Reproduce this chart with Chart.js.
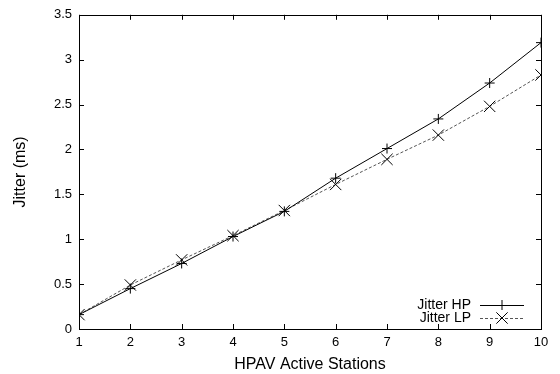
<!DOCTYPE html>
<html>
<head>
<meta charset="utf-8">
<script src="https://cdn.jsdelivr.net/npm/chart.js@4"></script>
<style>
  html, body { margin: 0; padding: 0; background: #fff; }
  #wrap { width: 560px; height: 374px; }
</style>
</head>
<body>
<div id="wrap"><canvas id="jitterChart" width="560" height="374"></canvas></div>
<script>
// data
const stations = [1, 2, 3, 4, 5, 6, 7, 8, 9, 10];
const jitterHP = [0.16, 0.45, 0.73, 1.03, 1.31, 1.68, 2.01, 2.34, 2.74, 3.19];
const jitterLP = [0.16, 0.49, 0.77, 1.04, 1.32, 1.61, 1.89, 2.16, 2.48, 2.83];
const seriesNames = ["Jitter HP", "Jitter LP"];

const FONT = "'Liberation Sans', Arial, Helvetica, sans-serif";

function toPoints(xs, ys) {
  return xs.map((x, i) => ({ x: x, y: ys[i] }));
}

// frame + inward ticks on every side, gnuplot style
const framePlugin = {
  id: "frame",
  afterDatasetsDraw(chart) {
    const c = chart.ctx;
    const a = chart.chartArea;
    const xs = chart.scales.x;
    const ys = chart.scales.y;
    const len = 5;
    c.save();
    c.strokeStyle = "#000";
    c.lineWidth = 1;
    c.beginPath();
    xs.ticks.forEach(t => {
      const px = Math.round(xs.getPixelForValue(t.value)) + 0.5;
      c.moveTo(px, a.bottom); c.lineTo(px, a.bottom - len);
      c.moveTo(px, a.top); c.lineTo(px, a.top + len);
    });
    ys.ticks.forEach(t => {
      const py = Math.round(ys.getPixelForValue(t.value)) + 0.5;
      c.moveTo(a.left, py); c.lineTo(a.left + len, py);
      c.moveTo(a.right, py); c.lineTo(a.right - len, py);
    });
    c.stroke();
    c.strokeRect(Math.round(a.left) + 0.5, Math.round(a.top) + 0.5,
                 Math.round(a.right - a.left), Math.round(a.bottom - a.top));
    c.restore();
  }
};

// key in the lower right corner: label, then line sample with marker
const keyPlugin = {
  id: "key",
  afterDatasetsDraw(chart) {
    const c = chart.ctx;
    const a = chart.chartArea;
    c.save();
    c.font = "14px " + FONT;
    c.textAlign = "right";
    c.textBaseline = "middle";
    chart.data.datasets.forEach((ds, i) => {
      const y = a.bottom - 24 + i * 13;
      const textRight = a.right - 70;
      const x0 = a.right - 61, x1 = a.right - 17;
      c.fillStyle = "#000";
      c.fillText(ds.label, textRight, y);
      c.strokeStyle = ds.borderColor;
      c.lineWidth = 1;
      c.setLineDash(ds.borderDash || []);
      c.beginPath();
      c.moveTo(x0, y + 0.5); c.lineTo(x1, y + 0.5);
      c.stroke();
      c.setLineDash([]);
      c.strokeStyle = "#000";
      const mx = (x0 + x1) / 2;
      const r = ds.pointStyle === "cross" ? ds.pointRadius : ds.pointRadius * Math.SQRT1_2;
      c.beginPath();
      if (ds.pointStyle === "cross") {
        c.moveTo(mx - r, y + 0.5); c.lineTo(mx + r, y + 0.5);
        c.moveTo(mx, y - r); c.lineTo(mx, y + r);
      } else {
        c.moveTo(mx - r, y - r); c.lineTo(mx + r, y + r);
        c.moveTo(mx - r, y + r); c.lineTo(mx + r, y - r);
      }
      c.stroke();
    });
    c.restore();
  }
};

const ctx = document.getElementById("jitterChart");

const jitterChart = new Chart(ctx, {
  type: "line",
  data: {
    datasets: [
      {
        label: seriesNames[0],
        data: toPoints(stations, jitterHP),
        borderColor: "#000",
        borderWidth: 1,
        pointStyle: "cross",
        pointRadius: 5,
        pointBorderColor: "#000",
        pointBorderWidth: 1,
        fill: false,
        tension: 0
      },
      {
        label: seriesNames[1],
        data: toPoints(stations, jitterLP),
        borderColor: "#555",
        borderWidth: 1,
        borderDash: [3, 2],
        pointStyle: "crossRot",
        pointRadius: 8,
        pointBorderColor: "#000",
        pointBorderWidth: 1,
        fill: false,
        tension: 0
      }
    ]
  },
  options: {
    responsive: false,
    animation: false,
    devicePixelRatio: 1,
    layout: { padding: { top: 11, right: 19, left: 0, bottom: 0 } },
    plugins: {
      legend: { display: false },
      tooltip: { enabled: false }
    },
    scales: {
      x: {
        type: "linear",
        min: 1,
        max: 10,
        ticks: { stepSize: 1, color: "#000", padding: 6, font: { family: FONT, size: 13 } },
        grid: { display: false, drawTicks: false },
        border: { display: false },
        title: {
          display: true,
          text: "HPAV Active Stations",
          color: "#000",
          font: { family: FONT, size: 16 },
          padding: { top: 2, bottom: 0 }
        },
        afterFit(scale) { scale.height = 45; }
      },
      y: {
        min: 0,
        max: 3.5,
        ticks: {
          stepSize: 0.5,
          color: "#000",
          padding: 7,
          font: { family: FONT, size: 13 },
          callback: (v) => String(v)
        },
        grid: { display: false, drawTicks: false },
        border: { display: false },
        title: {
          display: true,
          text: "Jitter (ms)",
          color: "#000",
          font: { family: FONT, size: 16 },
          padding: { top: 11, bottom: 0 }
        },
        afterFit(scale) { scale.width = 79; }
      }
    }
  },
  plugins: [framePlugin, keyPlugin]
});
</script>
</body>
</html>
